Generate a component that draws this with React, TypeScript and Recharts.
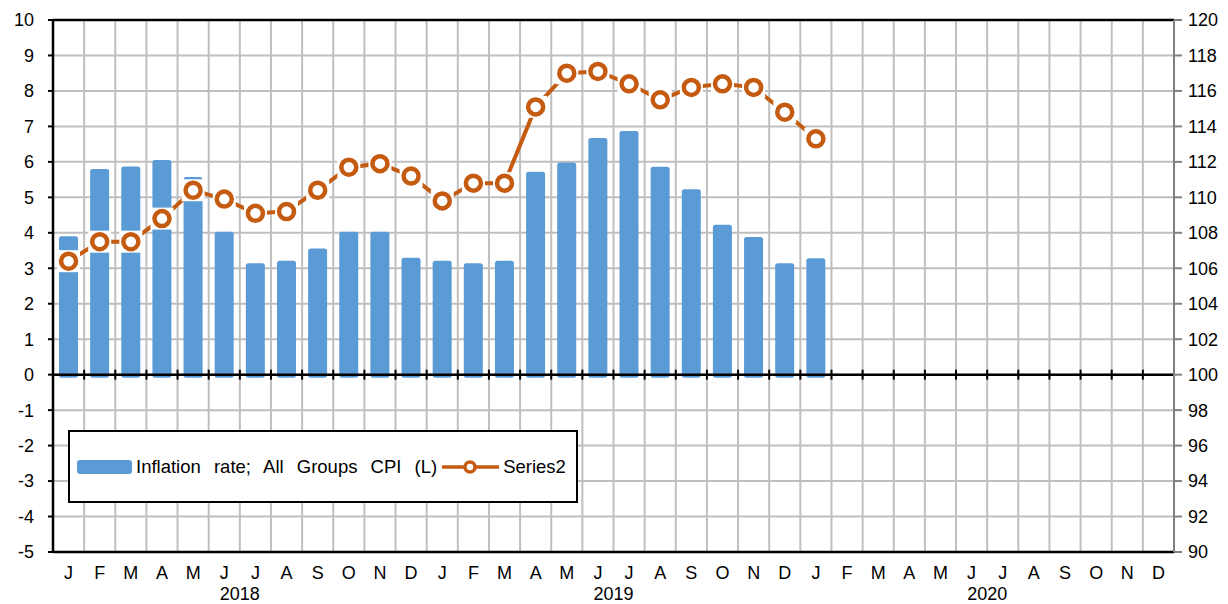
import React from "react"
import {
  ComposedChart,
  Bar,
  Line,
  XAxis,
  YAxis,
  CartesianGrid,
  ReferenceLine,
  Legend,
} from "recharts"

const years = ["2018", "2019", "2020"]
const monthLetters = ["J", "F", "M", "A", "M", "J", "J", "A", "S", "O", "N", "D"]

// Inflation rate; All Groups CPI (L) - left axis, %
const inflationRate = [
  3.9, 5.8, 5.87, 6.05, 5.57, 4.03, 3.14, 3.21, 3.56, 4.03, 4.03, 3.3,
  3.21, 3.14, 3.21, 5.72, 5.98, 6.67, 6.87, 5.86, 5.23, 4.23, 3.88, 3.14,
  3.28,
]

// Series2 - right axis index
const series2 = [
  106.4, 107.5, 107.5, 108.8, 110.4, 109.9, 109.1, 109.2, 110.4, 111.7, 111.9, 111.2,
  109.8, 110.8, 110.8, 115.1, 117.0, 117.1, 116.4, 115.5, 116.2, 116.4, 116.2, 114.8,
  113.3,
]

const leftTicks = [-5, -4, -3, -2, -1, 0, 1, 2, 3, 4, 5, 6, 7, 8, 9, 10]
const rightTicks = [90, 92, 94, 96, 98, 100, 102, 104, 106, 108, 110, 112, 114, 116, 118, 120]

const BLUE = "#5B9BD5"
const ORANGE = "#C55A11"
const GRID = "#BFBFBF"
const FONT = '"Liberation Sans", Arial, sans-serif'

const data = years.flatMap((year, yi) =>
  monthLetters.map((month, mi) => {
    const i = yi * 12 + mi
    return {
      id: `${year}-${mi + 1}`,
      month,
      year,
      inflation: i < inflationRate.length ? inflationRate[i] : null,
      series2: i < series2.length ? series2[i] : null,
    }
  })
)

const monthCount = data.length

// bars in Excel have soft edges and sit a hair below the zero line
const BarShape = (props: any) => {
  const { x, y, width, height, payload } = props
  if (payload == null || payload.inflation == null) return null
  return <rect x={x} y={y} width={width} height={Math.max(height, 0) + 3} rx={2.5} fill={BLUE} />
}

const MarkerDot = (props: any) => {
  const { cx, cy, index } = props
  if (cx == null || cy == null) return <g key={index} />
  return (
    <g key={index}>
      <rect x={cx - 11.5} y={cy - 11} width={23} height={22} fill="#fff" />
      <circle cx={cx} cy={cy} r={7.5} fill="#fff" stroke={ORANGE} strokeWidth={4.5} />
    </g>
  )
}

// black zero line with month-boundary tick marks across it
const ZeroAxis = (props: any) => {
  const { x1, x2, y1 } = props
  const step = (x2 - x1) / monthCount
  const marks = Array.from({ length: monthCount + 1 }, (_, i) => x1 + i * step)
  return (
    <g>
      <line x1={x1} x2={x2} y1={y1} y2={y1} stroke="#000" strokeWidth={2.5} />
      {marks.map((mx, i) => (
        <line key={i} x1={mx} x2={mx} y1={y1 - 5} y2={y1 + 5} stroke="#000" strokeWidth={2} />
      ))}
    </g>
  )
}

const LegendContent = () => (
  <div
    style={{
      boxSizing: "border-box",
      width: "100%",
      height: "100%",
      border: "2px solid #000",
      background: "#fff",
      display: "flex",
      alignItems: "center",
      paddingLeft: 7,
      fontFamily: FONT,
      fontSize: 18.5,
      color: "#000",
      whiteSpace: "nowrap",
    }}
  >
    <div style={{ width: 55, height: 14, background: BLUE, borderRadius: 3 }} />
    <span style={{ marginLeft: 4, wordSpacing: 8 }}>Inflation rate; All Groups CPI (L)</span>
    <svg width={60} height={16} style={{ marginLeft: 4 }}>
      <line x1={1} x2={58} y1={8} y2={8} stroke={ORANGE} strokeWidth={3.5} />
      <circle cx={29} cy={8} r={5} fill="#fff" stroke={ORANGE} strokeWidth={3.5} />
    </svg>
    <span style={{ marginLeft: 2 }}>Series2</span>
  </div>
)

export default function App() {
  const tickStyle = { fill: "#000", fontSize: 18, fontFamily: FONT }
  return (
    <div style={{ position: "absolute", left: 0, top: 0 }}>
      <ComposedChart
        width={1228}
        height={604}
        data={data}
        margin={{ top: 20, right: 0, left: 8, bottom: 0 }}
        style={{ fontFamily: FONT }}
      >
        <CartesianGrid
          yAxisId="left"
          stroke={GRID}
          strokeWidth={2}
          verticalCoordinatesGenerator={({ offset }: any) =>
            Array.from({ length: monthCount + 1 }, (_, i) => offset.left + (i * offset.width) / monthCount)
          }
        />
        <XAxis
          dataKey="id"
          height={30}
          interval={0}
          tickFormatter={(_v: any, i: number) => data[i]?.month ?? ""}
          tick={tickStyle}
          tickLine={false}
          tickSize={6}
          tickMargin={8}
          axisLine={{ stroke: "#000", strokeWidth: 2.5 }}
        />
        <XAxis
          xAxisId="year"
          dataKey="year"
          allowDuplicatedCategory={false}
          height={22}
          tick={tickStyle}
          tickLine={false}
          tickSize={5}
          tickMargin={0}
          axisLine={false}
        />
        <YAxis
          yAxisId="left"
          width={45}
          domain={[-5, 10]}
          ticks={leftTicks}
          interval={0}
          allowDataOverflow
          tick={tickStyle}
          tickSize={5}
          tickMargin={14}
          tickLine={{ stroke: "#000", strokeWidth: 2 }}
          axisLine={{ stroke: "#000", strokeWidth: 2.5 }}
        />
        <YAxis
          yAxisId="right"
          orientation="right"
          width={54}
          domain={[90, 120]}
          ticks={rightTicks}
          interval={0}
          allowDataOverflow
          tick={{ ...tickStyle, textAnchor: "start" }}
          tickSize={8}
          tickMargin={6}
          tickLine={{ stroke: "#808080", strokeWidth: 2 }}
          axisLine={{ stroke: "#808080", strokeWidth: 2 }}
        />
        <Bar
          yAxisId="left"
          dataKey="inflation"
          barSize={19}
          shape={BarShape}
          isAnimationActive={false}
        />
        <ReferenceLine yAxisId="left" y={0} shape={ZeroAxis} />
        <ReferenceLine yAxisId="left" y={10} stroke="#000" strokeWidth={2.5} />
        <Line
          yAxisId="right"
          dataKey="series2"
          type="linear"
          stroke={ORANGE}
          strokeWidth={4}
          dot={MarkerDot}
          activeDot={false}
          isAnimationActive={false}
        />
        <Legend
          layout="horizontal"
          verticalAlign="middle"
          align="center"
          content={LegendContent}
          wrapperStyle={{ left: 68, top: 430, width: 510, height: 73 }}
        />
      </ComposedChart>
    </div>
  )
}
